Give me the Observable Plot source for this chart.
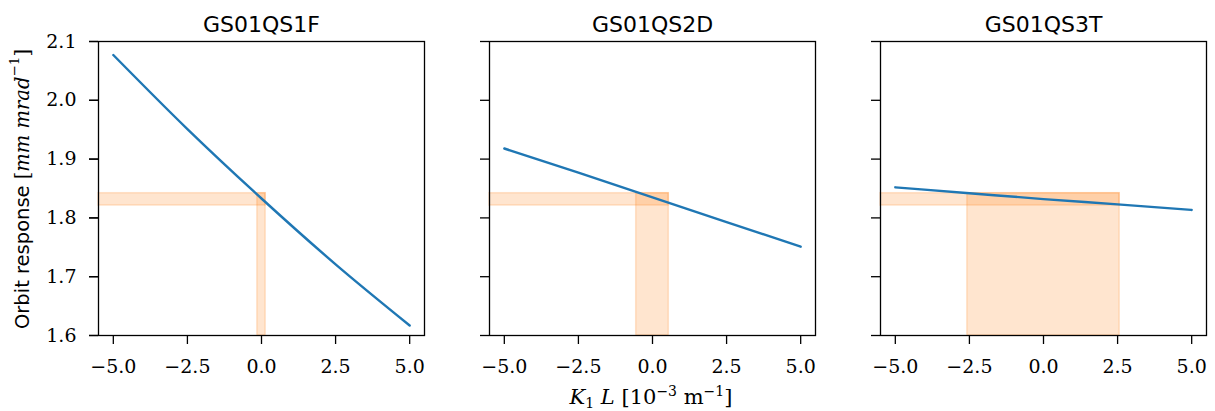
<!DOCTYPE html>
<html><head><meta charset="utf-8">
<script src="https://cdn.jsdelivr.net/npm/d3@7"></script>
<script src="https://cdn.jsdelivr.net/npm/@observablehq/plot@0.6"></script>
<style>body{margin:0;background:#fff} svg{display:block}</style>
</head><body><div id="chart"></div>
<script>
const magnets = ["GS01QS1F", "GS01QS2D", "GS01QS3T"];
const k1l = [-5, -2.5, 0, 2.5, 5];
const response1 = [2.077, 1.951, 1.833, 1.721, 1.617];
const response2 = [1.918, 1.877, 1.835, 1.793, 1.751];
const response3 = [1.852, 1.842, 1.832, 1.823, 1.8135];
const bandLow = 1.821, bandHigh = 1.842;
const k1lHalfWidth = [0.14, 0.55, 2.57];
const xTicks = [-5, -2.5, 0, 2.5, 5];
const yTicks = [1.6, 1.7, 1.8, 1.9, 2.0, 2.1];
const xDomain = [-5.5, 5.5];
const yDomain = [1.6, 2.1];

const responses = [response1, response2, response3];
const lines = magnets.flatMap((m, i) => k1l.map((k, j) => ({magnet: m, k, r: responses[i][j]})));
const hBands = magnets.map((m, i) => ({magnet: m, x1: xDomain[0], x2: k1lHalfWidth[i], y1: bandLow, y2: bandHigh}));
const vBands = magnets.map((m, i) => ({magnet: m, x1: -k1lHalfWidth[i], x2: k1lHalfWidth[i], y1: yDomain[0], y2: bandHigh}));

const fmt = d3.format(".1f");
const band = {x1: "x1", x2: "x2", y1: "y1", y2: "y2", fx: "magnet", fill: "#ff7f0e", fillOpacity: 0.2, stroke: "#ff7f0e", strokeOpacity: 0.2, strokeWidth: 1.5};

const plot = Plot.plot({
  width: 1215, height: 411,
  marginLeft: 97, marginRight: 8, marginTop: 41, marginBottom: 76,
  style: {background: "white", fontFamily: "DejaVu Serif", fontSize: "19px", color: "black", overflow: "visible"},
  fx: {domain: magnets, paddingInner: 0.1666, paddingOuter: 0, label: null},
  x: {domain: xDomain},
  y: {domain: yDomain},
  marks: [
    Plot.rect(hBands, band),
    Plot.rect(vBands, band),
    Plot.line(lines, {x: "k", y: "r", fx: "magnet", stroke: "#1f77b4", strokeWidth: 2.4, curve: "monotone-x"}),
    Plot.frame({stroke: "black", strokeWidth: 1.3}),
    Plot.axisFx({anchor: "top", tickSize: 0, tickPadding: 10, fontSize: 22, fontFamily: "DejaVu Sans", label: null}),
    Plot.axisY({ticks: yTicks, tickFormat: fmt, tickSize: 9, tickPadding: 13, strokeWidth: 1.3, fontSize: 19, label: null}),
    Plot.axisY({ticks: yTicks, tickSize: 9, strokeWidth: 1.3, fill: "none", label: null, facetAnchor: null}),
    Plot.axisX({ticks: xTicks, tickFormat: fmt, tickSize: 9, tickPadding: 15, strokeWidth: 1.3, fontSize: 19, label: null})
  ]
});
document.getElementById("chart").appendChild(plot);

const svg = d3.select(plot);
const yl = svg.append("text")
  .attr("transform", "translate(22,189) rotate(-90)")
  .attr("text-anchor", "middle")
  .attr("dominant-baseline", "central")
  .attr("fill", "black");
yl.append("tspan").attr("font-family", "DejaVu Sans").attr("font-size", 19.5).text("Orbit response ");
yl.append("tspan").attr("font-family", "DejaVu Serif").attr("font-size", 19.5).text("[");
yl.append("tspan").attr("font-family", "DejaVu Serif").attr("font-style", "italic").attr("font-size", 19.5).text("mm mrad");
yl.append("tspan").attr("font-family", "DejaVu Serif").attr("font-size", 13.5).attr("dy", -8).text("−1");
yl.append("tspan").attr("font-family", "DejaVu Serif").attr("font-size", 19.5).attr("dy", 8).text("]");

const xl = svg.append("text")
  .attr("x", 651).attr("y", 404)
  .attr("text-anchor", "middle")
  .attr("font-family", "DejaVu Serif")
  .attr("font-size", 21)
  .attr("fill", "black");
xl.append("tspan").attr("font-style", "italic").text("K");
xl.append("tspan").attr("font-size", 14).attr("dy", 4).text("1");
xl.append("tspan").attr("font-style", "italic").attr("dy", -4).text(" L");
xl.append("tspan").text(" [10");
xl.append("tspan").attr("font-size", 14).attr("dy", -8).text("−3");
xl.append("tspan").attr("dy", 8).text(" m");
xl.append("tspan").attr("font-size", 14).attr("dy", -8).text("−1");
xl.append("tspan").attr("dy", 8).text("]");
</script>
</body></html>
